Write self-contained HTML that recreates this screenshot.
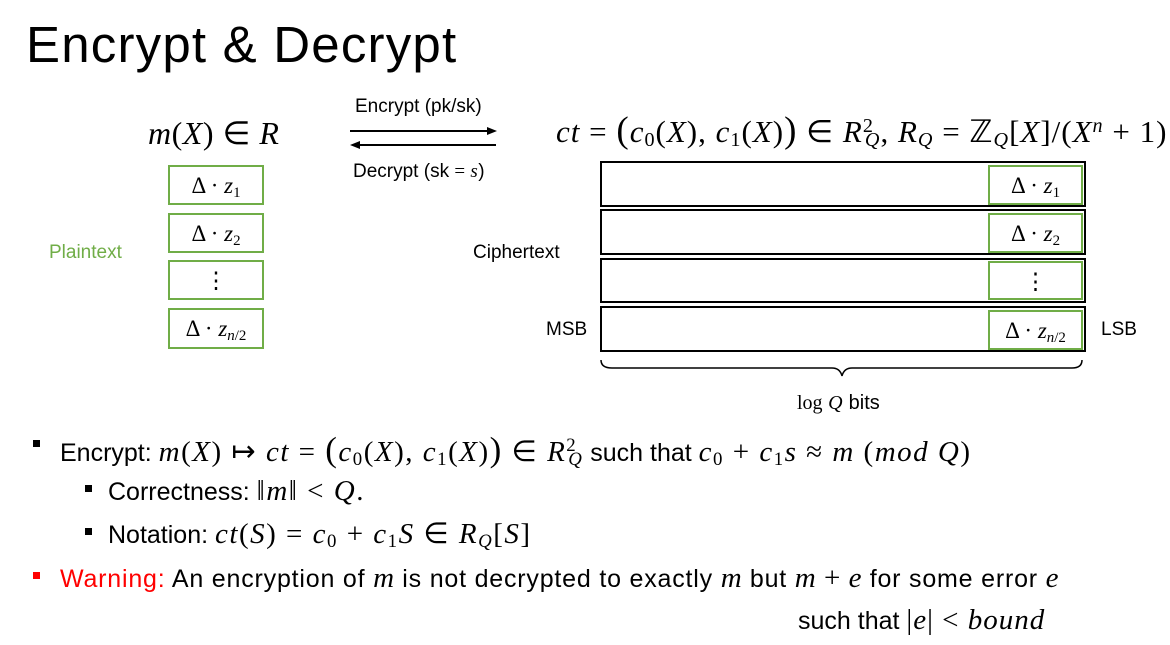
<!DOCTYPE html>
<html><head><meta charset="utf-8"><style>
body{margin:0;width:1170px;height:645px;background:#fff;position:relative;overflow:hidden;font-family:"Liberation Sans",sans-serif;color:#000}
.a{position:absolute;white-space:nowrap;line-height:1}
.m{font-family:"Liberation Serif",serif;font-style:italic;letter-spacing:0.5px}
.r{font-family:"Liberation Serif",serif;font-style:normal}
.gb{position:absolute;border:2px solid #70ad47;box-sizing:border-box;background:#fff;font-family:"Liberation Serif",serif;font-size:23px;text-align:center}
.cb{position:absolute;border:2px solid #000;box-sizing:border-box;left:600px;width:486px}
.sq{position:absolute;width:7px;height:7px;background:#000}
sub{font-size:65%;vertical-align:-4px}
sup{font-size:65%;vertical-align:10px}
</style></head><body>
<div class="a" style="left:26px;top:19px;font-size:51px;font-weight:300;letter-spacing:1.2px">Encrypt &amp; Decrypt</div>

<div class="a m" style="left:148px;top:117px;font-size:32px">m<span class="r">(</span>X<span class="r">) ∈ </span>R</div>

<div class="gb" style="left:168px;top:165px;width:96px;height:40px;line-height:38px"><span class="r">Δ · </span><i>z</i><sub>1</sub></div>
<div class="gb" style="left:168px;top:213px;width:96px;height:40px;line-height:38px"><span class="r">Δ · </span><i>z</i><sub>2</sub></div>
<div class="gb" style="left:168px;top:260px;width:96px;height:40px;line-height:38px">⋮</div>
<div class="gb" style="left:168px;top:308px;width:96px;height:41px;line-height:38px"><span class="r">Δ · </span><i>z</i><sub><i>n</i>/2</sub></div>
<div class="a" style="left:49px;top:243px;font-size:19px;color:#70ad47">Plaintext</div>

<div class="a" style="left:355px;top:97px;font-size:19px">Encrypt (pk/sk)</div>
<div class="a" style="left:353px;top:162px;font-size:19px">Decrypt (sk <span class="r">=</span> <span class="m">s</span>)</div>
<svg style="position:absolute;left:0;top:0" width="1170" height="645">
<line x1="350" y1="131" x2="490" y2="131" stroke="#000" stroke-width="2"/>
<polygon points="497,131 487,127 487,135" fill="#000"/>
<line x1="357" y1="145" x2="496" y2="145" stroke="#000" stroke-width="2"/>
<polygon points="350,145 360,141 360,149" fill="#000"/>
<path d="M601,360 Q601,368 612,368 L832,368 Q840,368 842,376 Q844,368 852,368 L1072,368 Q1082,368 1082,360" fill="none" stroke="#000" stroke-width="1.5"/>
</svg>

<div class="a m" style="left:556px;top:112px;font-size:31px;letter-spacing:1px">ct <span class="r">=</span> <span class="r" style="font-size:37px">(</span>c<sub class="r">0</sub><span class="r">(</span>X<span class="r">),</span> c<sub class="r">1</sub><span class="r">(</span>X<span class="r">)</span><span class="r" style="font-size:37px">)</span><span class="r"> ∈ </span>R<sup class="r" style="margin-right:-9px">2</sup><sub>Q</sub><span class="r">,</span>  R<sub>Q</sub> <span class="r">= ℤ</span><sub>Q</sub><span class="r">[</span>X<span class="r">]/(</span>X<sup>n</sup> <span class="r">+ 1)</span></div>

<div class="cb" style="top:161px;height:46px"></div>
<div class="cb" style="top:209px;height:46px"></div>
<div class="cb" style="top:258px;height:45px"></div>
<div class="cb" style="top:306px;height:46px"></div>
<div class="gb" style="left:988px;top:165px;width:95px;height:40px;line-height:38px"><span class="r">Δ · </span><i>z</i><sub>1</sub></div>
<div class="gb" style="left:988px;top:213px;width:95px;height:40px;line-height:38px"><span class="r">Δ · </span><i>z</i><sub>2</sub></div>
<div class="gb" style="left:988px;top:261px;width:95px;height:39px;line-height:37px">⋮</div>
<div class="gb" style="left:988px;top:310px;width:95px;height:40px;line-height:38px"><span class="r">Δ · </span><i>z</i><sub><i>n</i>/2</sub></div>
<div class="a" style="left:473px;top:243px;font-size:19px">Ciphertext</div>
<div class="a" style="left:546px;top:320px;font-size:19px">MSB</div>
<div class="a" style="left:1101px;top:320px;font-size:19px">LSB</div>
<div class="a" style="left:797px;top:393px;font-size:20px"><span class="r">log</span> <span class="m">Q</span> bits</div>

<div class="sq" style="left:33px;top:440px"></div>
<div class="a" style="left:60px;top:432px;font-size:25px">Encrypt:  <span class="m" style="font-size:29px;letter-spacing:1.5px">m<span class="r">(</span>X<span class="r">) ↦ </span>ct <span class="r">=</span> <span class="r" style="font-size:35px">(</span>c<sub class="r">0</sub><span class="r">(</span>X<span class="r">),</span> c<sub class="r">1</sub><span class="r">(</span>X<span class="r">)</span><span class="r" style="font-size:35px">)</span><span class="r"> ∈ </span>R<sup class="r" style="margin-right:-9px">2</sup><sub>Q</sub></span>  such that <span class="m" style="font-size:29px;letter-spacing:1.5px">c<sub class="r">0</sub> <span class="r">+</span> c<sub class="r">1</sub>s <span class="r">≈</span> m <span class="r">(</span>mod Q<span class="r">)</span></span></div>

<div class="sq" style="left:85px;top:485px"></div>
<div class="a" style="left:108px;top:477px;font-size:25px">Correctness: <span class="m" style="font-size:29px;letter-spacing:1.5px"><span class="r">‖</span>m<span class="r">‖ &lt; </span>Q<span class="r">.</span></span></div>

<div class="sq" style="left:85px;top:528px"></div>
<div class="a" style="left:108px;top:520px;font-size:25px">Notation: <span class="m" style="font-size:29px;letter-spacing:1.5px">ct<span class="r">(</span>S<span class="r">) =</span> c<sub class="r">0</sub> <span class="r">+</span> c<sub class="r">1</sub>S <span class="r">∈</span> R<sub>Q</sub><span class="r">[</span>S<span class="r">]</span></span></div>

<div class="sq" style="left:33px;top:572px;background:#f00"></div>
<div class="a" style="left:60px;top:564px;font-size:25px;letter-spacing:0.8px"><span style="color:#f00">Warning:</span> An encryption of <span class="m" style="font-size:29px">m</span> is not decrypted to exactly <span class="m" style="font-size:29px">m</span> but <span class="m" style="font-size:29px">m <span class="r">+</span> e</span> for some error <span class="m" style="font-size:29px">e</span></div>
<div class="a" style="left:798px;top:606px;font-size:25px">such that <span class="m" style="font-size:29px;letter-spacing:1px"><span class="r">|</span>e<span class="r">| &lt; </span>bound</span></div>
</body></html>
